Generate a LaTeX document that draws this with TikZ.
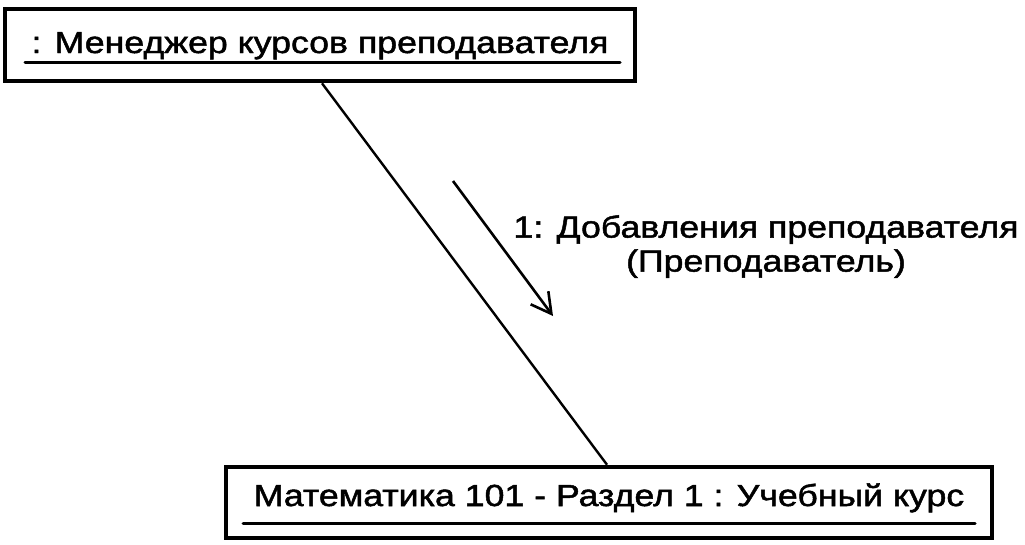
\documentclass[tikz,border=0pt]{standalone}
\usepackage{fontspec}
\newfontfamily\hv[FakeStretch=1.17,FakeBold=1.6]{Liberation Sans}
\usetikzlibrary{arrows.meta}
\begin{document}
\begin{tikzpicture}[x=1pt,y=-1pt,
  objbox/.style={draw, line width=4.5pt, inner sep=0pt, font=\hv\fontsize{30.5pt}{34pt}\selectfont},
  uline/.style={line width=3pt, line cap=round},
  link/.style={line width=2.4pt},
  msg/.style={line width=2.6pt, -{Straight Barb[length=20pt,width=22pt,line width=2.6pt]}},
  msglabel/.style={align=center, inner sep=0pt, font=\hv\fontsize{30.5pt}{34pt}\selectfont}]
\useasboundingbox[fill=white] (0,0) rectangle (1025,544);
\node[objbox, minimum width=630pt, minimum height=72pt, text height=22pt, text depth=6pt] (mgr) at (320,45) {: Менеджер курсов преподавателя};
\node[objbox, minimum width=766pt, minimum height=71pt, text height=20pt, text depth=13pt] (course) at (609,502.5) {Математика 101 - Раздел 1 : Учебный курс};
\draw[uline] (25,62.5) -- (620,62.5);
\draw[uline] (243,523) -- (975,523);
\draw[link] ([xshift=2pt]mgr.south) -- ([xshift=-2pt]course.north);
\coordinate (ms) at (453,181);
\coordinate (me) at (553,316);
\draw[msg] (ms) -- (me);
\node[msglabel, anchor=north] (lbl) at (766,215) {1: Добавления преподавателя\\(Преподаватель)};
\end{tikzpicture}
\end{document}
